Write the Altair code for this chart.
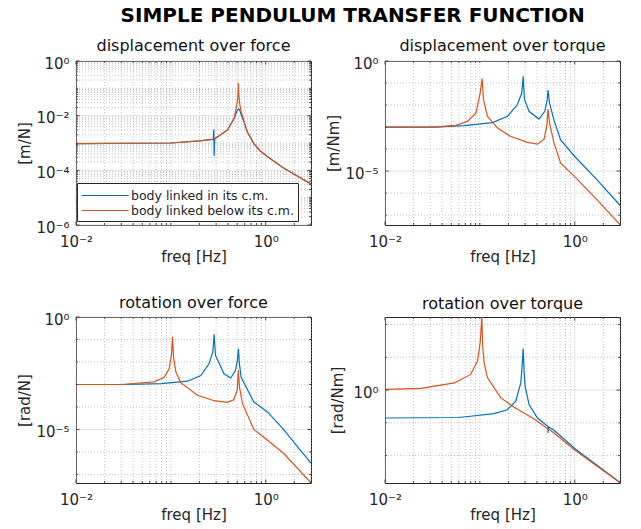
import math

import altair as alt
import pandas as pd

FONT = "DejaVu Sans"
INK = "#262626"
BLUE = "#0072BD"
ORANGE = "#D95319"
MAJOR_GRID = "#dadada"
MINOR_GRID = "#b4b4b4"
SERIES = ["body linked in its c.m.", "body linked below its c.m."]

F_LO, F_HI = 0.01, 3.0

# ---- displacement over force [m/N] ----
dof_in_f = [0.01, 0.1, 0.2, 0.28, 0.284, 0.286, 0.29, 0.395, 0.465, 0.5, 0.515,
            0.53, 0.546, 0.6, 0.64, 0.75, 0.88, 1.04, 1.5, 2.0, 3.0]
dof_in_v = [9.5e-4, 1.0e-3, 1.2e-3, 1.35e-3, 3.2e-3, 3.4e-4, 1.4e-3, 3.0e-3, 8.0e-3, 1.5e-2, 1.8e-2,
            1.6e-2, 1.2e-2, 5.0e-3, 2.5e-3, 9.5e-4, 5.0e-4, 3.2e-4, 1.3e-4, 7.2e-5, 3.2e-5]
dof_below_f = [0.01, 0.1, 0.2, 0.286, 0.395, 0.465, 0.5, 0.51, 0.515, 0.52,
               0.53, 0.546, 0.6, 0.64, 0.75, 0.88, 1.04, 1.5, 2.0, 3.0]
dof_below_v = [9.5e-4, 1.0e-3, 1.2e-3, 1.4e-3, 3.0e-3, 8.0e-3, 3.0e-2, 6.0e-2, 0.155, 6.0e-2,
               3.0e-2, 1.6e-2, 5.0e-3, 2.5e-3, 9.5e-4, 5.0e-4, 3.2e-4, 1.3e-4, 7.2e-5, 3.2e-5]

# ---- displacement over torque [m/Nm] ----
dot_in_f = [0.01, 0.034, 0.068, 0.136, 0.196, 0.249, 0.277, 0.286, 0.295, 0.33, 0.42,
            0.483, 0.511, 0.524, 0.542, 0.605, 0.71, 1.0, 1.73, 3.0]
dot_in_v = [1.0e-3, 1.0e-3, 1.15e-3, 1.6e-3, 3.1e-3, 1.05e-2, 3.6e-2, 0.2, 1.8e-2, 5.2e-3, 2.3e-3,
            5.2e-3, 1.5e-2, 4.8e-2, 1.26e-2, 2.0e-3, 2.6e-4, 4.6e-5, 3.9e-6, 2.8e-7]
dot_below_f = [0.01, 0.03, 0.054, 0.074, 0.091, 0.1007, 0.1057, 0.109, 0.12, 0.154, 0.21,
               0.318, 0.405, 0.475, 0.507, 0.524, 0.542, 0.605, 0.71, 1.0, 1.73, 3.0]
dot_below_v = [1.0e-3, 1.0e-3, 1.15e-3, 1.8e-3, 4.4e-3, 3.5e-2, 0.16, 1.8e-2, 3.1e-3, 9.0e-4, 3.8e-4,
               2.0e-4, 1.67e-4, 2.8e-4, 1.07e-3, 6.6e-3, 1.5e-3, 1.9e-4, 2.3e-5, 5.6e-6, 4.8e-7, 3.7e-8]

# ---- rotation over force [rad/N] ----
rof_in_f = [0.01, 0.034, 0.0785, 0.15, 0.207, 0.253, 0.277, 0.286, 0.295, 0.363, 0.428,
            0.48, 0.503, 0.515, 0.528, 0.55, 0.75, 1.04, 1.5, 3.0]
rof_in_v = [1.0e-3, 1.0e-3, 1.1e-3, 1.4e-3, 2.5e-3, 8.5e-3, 2.8e-2, 0.17, 2.0e-2, 3.0e-3, 1.95e-3,
            4.3e-3, 1.18e-2, 3.9e-2, 8.5e-3, 2.1e-3, 1.66e-4, 6.0e-5, 1.15e-5, 3.2e-7]
rof_below_f = [0.01, 0.03, 0.0667, 0.085, 0.096, 0.1017, 0.104, 0.1067, 0.113, 0.127, 0.191,
               0.286, 0.395, 0.46, 0.5, 0.515, 0.528, 0.569, 0.75, 1.0, 1.56, 3.0]
rof_below_v = [1.0e-3, 1.0e-3, 1.3e-3, 2.1e-3, 5.0e-3, 2.3e-2, 0.13, 1.66e-2, 3.6e-3, 1.2e-3, 3.3e-4,
               1.9e-4, 1.6e-4, 2.1e-4, 5.5e-4, 4.3e-3, 7.8e-4, 1.4e-4, 1.0e-5, 3.9e-6, 8.3e-7, 4.2e-8]

# ---- rotation over torque [rad/Nm] ----
rot_in_f = [0.01, 0.06, 0.141, 0.195, 0.239, 0.27, 0.279, 0.286, 0.293, 0.3, 0.33, 0.405,
            0.495, 0.52, 0.523, 0.527, 0.605, 1.0, 3.0]
rot_in_v = [0.14, 0.145, 0.19, 0.25, 0.46, 1.66, 5.5, 18.6, 3.4, 1.3, 0.36, 0.14,
            0.087, 0.081, 0.049, 0.075, 0.059, 0.0165, 1.5e-3]
rot_below_f = [0.01, 0.024, 0.054, 0.08, 0.0946, 0.1007, 0.105, 0.107, 0.111, 0.12, 0.166,
               0.23, 0.373, 0.605, 1.0, 3.0]
rot_below_v = [1.05, 1.12, 1.65, 3.0, 7.8, 28.5, 170.0, 22.6, 6.9, 2.4, 0.575,
               0.3, 0.13, 0.049, 0.0148, 1.48e-3]

SUP = str.maketrans("-0123456789", "⁻⁰¹²³⁴⁵⁶⁷⁸⁹")
W = 235


def decade_label_expr(values):
    parts = []
    for v in values:
        e = round(math.log10(v))
        parts.append(f"abs(log(datum.value)/LN10 - ({e})) < 0.01 ? '10{str(e).translate(SUP)}'")
    return " : ".join(parts) + " : ''"


def log_ticks(lo, hi, mults):
    out = []
    for k in range(math.floor(math.log10(lo)) - 1, math.ceil(math.log10(hi)) + 1):
        for m in mults:
            t = m * 10.0 ** k
            if lo * 0.999 <= t <= hi * 1.001:
                out.append(t)
    return out


def without(vals, drop):
    return [t for t in vals if not any(math.isclose(t, d, rel_tol=1e-6) for d in drop)]


def panel(title, ytitle, ydomain, ylabels, yminor_mults, curves, height,
          title_offset, ytitle_gap=44, legend=False):
    xs = alt.Scale(type="log", domain=[F_LO, F_HI], nice=False)
    ys = alt.Scale(type="log", domain=ydomain, nice=False)
    x_major = [0.01, 1.0]
    x_minor = without(log_ticks(F_LO, F_HI, range(1, 10)), x_major)
    y_minor = without(log_ticks(ydomain[0], ydomain[1], yminor_mults), ylabels)

    xaxis = alt.Axis(values=x_major, labelExpr=decade_label_expr(x_major), title="freq [Hz]",
                     grid=False, ticks=False, domain=False, labelFlush=False, labelOverlap=False,
                     labelPadding=9, minExtent=18, maxExtent=18, titlePadding=6)
    yaxis = alt.Axis(values=ylabels, labelExpr=decade_label_expr(ylabels), title=ytitle,
                     grid=False, ticks=False, domain=False, labelOverlap=False, labelPadding=7,
                     labelOffset=2, minExtent=ytitle_gap - 8, maxExtent=ytitle_gap - 8,
                     titlePadding=8)
    X = alt.X("f:Q", scale=xs, axis=xaxis)
    Y = alt.Y("v:Q", scale=ys, axis=yaxis)

    def vrules(vals, color, dash=None):
        kw = {"strokeDash": dash} if dash else {}
        return alt.Chart(pd.DataFrame({"f": vals})).mark_rule(
            color=color, strokeWidth=0.8, **kw).encode(x=X)

    def hrules(vals, color, dash=None):
        kw = {"strokeDash": dash} if dash else {}
        return alt.Chart(pd.DataFrame({"v": vals})).mark_rule(
            color=color, strokeWidth=0.8, **kw).encode(y=Y)

    def xticks(vals, L):
        base = alt.Chart(pd.DataFrame({"f": vals})).mark_rule(color=INK, strokeWidth=0.8)
        return [base.encode(x=X, y=alt.value(height), y2=alt.value(height - L)),
                base.encode(x=X, y=alt.value(0), y2=alt.value(L))]

    def yticks(vals, L):
        base = alt.Chart(pd.DataFrame({"v": vals})).mark_rule(color=INK, strokeWidth=0.8)
        return [base.encode(y=Y, x=alt.value(0), x2=alt.value(L)),
                base.encode(y=Y, x=alt.value(W), x2=alt.value(W - L))]

    layers = [
        vrules(x_minor, MINOR_GRID, [1, 2]),
        hrules(y_minor, MINOR_GRID, [1, 2]),
        vrules(x_major, MAJOR_GRID),
        hrules(ylabels, MAJOR_GRID),
    ]
    color_scale = alt.Scale(domain=SERIES, range=[BLUE, ORANGE])
    # legend key: a short horizontal stroke that starts at the left of the symbol cell
    leg = alt.Legend(title=None, orient="none", legendX=1, legendY=122, direction="vertical",
                     fillColor="white", strokeColor=INK, padding=4, symbolType="M-1,0H5",
                     symbolSize=245, symbolStrokeWidth=1.2, labelFontSize=12.5, labelFont=FONT,
                     labelColor=INK, labelLimit=400, rowPadding=0, labelOffset=33)
    for name, f, v, col in curves:
        df = pd.DataFrame({"f": f, "v": v, "s": name})
        if legend:
            color = alt.Color("s:N", scale=color_scale, legend=leg)
        else:
            color = alt.value(col)
        layers.append(alt.Chart(df).mark_line(strokeWidth=1.2, clip=True).encode(
            x=X, y=Y, color=color))
    layers += xticks(x_major, 3.5) + xticks(x_minor, 2)
    layers += yticks(ylabels, 3.5) + yticks(y_minor, 2)

    return alt.layer(*layers).properties(
        width=W, height=height,
        title=alt.TitleParams(title, font=FONT, fontSize=16, fontWeight="normal",
                              color="#111111", offset=title_offset),
    )


p1 = panel("displacement over force", "[m/N]", [1e-6, 1.0], [1e-6, 1e-4, 1e-2, 1.0],
           range(1, 10),
           [(SERIES[0], dof_in_f, dof_in_v, BLUE), (SERIES[1], dof_below_f, dof_below_v, ORANGE)],
           164, title_offset=2, legend=True)
p2 = panel("displacement over torque", "[m/Nm]", [10 ** -7.45, 1.0], [1e-5, 1.0], [1],
           [(SERIES[0], dot_in_f, dot_in_v, BLUE), (SERIES[1], dot_below_f, dot_below_v, ORANGE)],
           164, title_offset=2)
p3 = panel("rotation over force", "[rad/N]", [10 ** -7.38, 1.0], [1e-5, 1.0], [1],
           [(SERIES[0], rof_in_f, rof_in_v, BLUE), (SERIES[1], rof_below_f, rof_below_v, ORANGE)],
           166, title_offset=1)
p4 = panel("rotation over torque", "[rad/Nm]", [1.45e-3, 170.0], [1.0], [1],
           [(SERIES[0], rot_in_f, rot_in_v, BLUE), (SERIES[1], rot_below_f, rot_below_v, ORANGE)],
           166, title_offset=5, ytitle_gap=40)

chart = alt.concat(
    p1, p2, p3, p4, columns=2, spacing={"row": 92, "column": 74}, bounds="flush",
    title=alt.TitleParams("SIMPLE PENDULUM TRANSFER FUNCTION", font=FONT, fontSize=20,
                          fontWeight="bold", color="black", anchor="middle", offset=12, dx=34),
).resolve_scale(
    x="independent", y="independent", color="independent"
).properties(
    padding={"left": 16, "top": 5, "right": 5, "bottom": 5}, background="white"
).configure(font=FONT).configure_view(stroke=INK, strokeWidth=1).configure_axis(
    labelFont=FONT, titleFont=FONT, labelFontSize=15, titleFontSize=15,
    labelColor=INK, titleColor=INK, titleFontWeight="normal"
)

chart.save("out.html", embed_options={"renderer": "svg", "actions": False})
